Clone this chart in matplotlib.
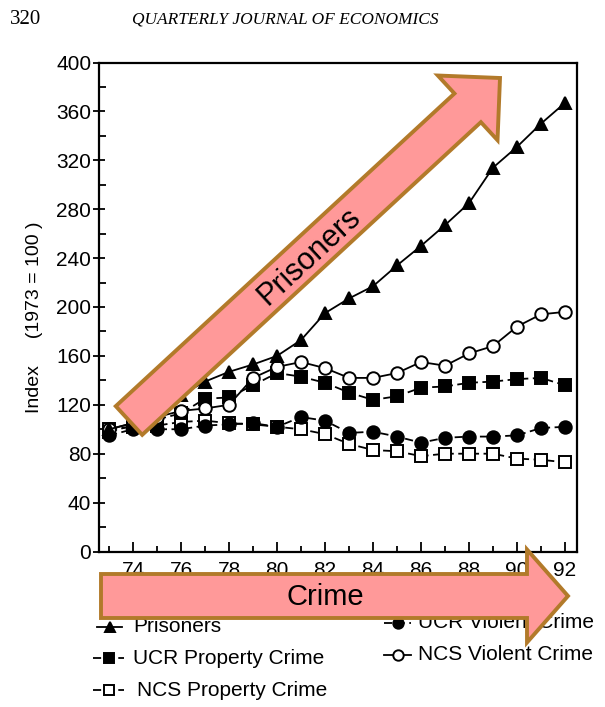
import numpy as np
import matplotlib
matplotlib.use("Agg")
import matplotlib.pyplot as plt
from matplotlib.lines import Line2D
from matplotlib.patches import FancyArrow
from matplotlib.ticker import MultipleLocator

plt.rcParams['font.family'] = ['Liberation Sans', 'DejaVu Sans']

# index values, 1973 = 100
years = [73, 74, 75, 76, 77, 78, 79, 80, 81, 82, 83, 84, 85, 86, 87, 88, 89, 90, 91, 92]
prisoners = [100, 105, 116, 128, 139, 147, 153, 160, 173, 195, 207, 217, 234, 250, 267, 285, 314, 331, 350, 367]
ucr_property = [98, 103, 108, 113, 125, 126, 136, 146, 143, 138, 130, 124, 127, 134, 135, 138, 139, 141, 142, 136]
ucr_violent = [95, 100, 100, 100, 103, 104, 105, 102, 110, 107, 97, 98, 94, 89, 93, 94, 94, 95, 101, 102]
ncs_property = [100, 102, 103, 106, 107, 105, 104, 102, 100, 96, 88, 83, 82, 78, 80, 80, 80, 76, 75, 73]
ncs_violent = [100, 105, 110, 115, 117, 120, 142, 151, 155, 150, 142, 142, 146, 155, 152, 162, 168, 184, 194, 196]
xtick_years = [74, 76, 78, 80, 82, 84, 86, 88, 90, 92]

W, H = 605, 707
fig = plt.figure(figsize=(W / 100, H / 100), dpi=100)
fig.patch.set_facecolor('white')

def fx(px):
    return px / W

def fy(py):
    return 1 - py / H

ax = fig.add_axes([fx(99), fy(551.5), (577 - 99) / W, (551.5 - 62.5) / H])

dash = (0, (4.5, 2.5))
styles = {
    'Prisoners': dict(ls='-', marker='^', mfc='black', ms=9),
    'UCR Property Crime': dict(ls=dash, marker='s', mfc='black', ms=8),
    'NCS Property Crime': dict(ls=dash, marker='s', mfc='white', ms=8),
    'UCR Violent Crime': dict(ls=dash, marker='o', mfc='black', ms=9),
    'NCS Violent Crime': dict(ls='-', marker='o', mfc='white', ms=9),
}
series = {
    'NCS Property Crime': ncs_property,
    'UCR Violent Crime': ucr_violent,
    'UCR Property Crime': ucr_property,
    'NCS Violent Crime': ncs_violent,
    'Prisoners': prisoners,
}
for name, vals in series.items():
    st = styles[name]
    ax.plot(years, vals, color='black', lw=1.3, ls=st['ls'], marker=st['marker'],
            ms=st['ms'], mfc=st['mfc'], mec='black', mew=1.4)

ax.set_xlim(72.58, 92.5)
ax.set_ylim(0, 400)
ax.set_xticks(xtick_years)
ax.set_xticklabels([str(y) for y in xtick_years])
ax.xaxis.set_minor_locator(MultipleLocator(1))
ax.yaxis.set_major_locator(MultipleLocator(40))
ax.yaxis.set_minor_locator(MultipleLocator(20))
ax.tick_params(axis='x', which='major', direction='in', length=7, width=1.3,
               labelsize=15, pad=7)
ax.tick_params(axis='x', which='minor', direction='in', length=4.5, width=1.3)
ax.tick_params(axis='y', which='major', direction='inout', length=9, width=1.3,
               labelsize=15, pad=1)
ax.tick_params(axis='y', which='minor', direction='in', length=5, width=1.3)
for sp in ax.spines.values():
    sp.set_linewidth(1.6)
ax.set_ylabel('Index     (1973 = 100 )', fontsize=14)
ax.yaxis.set_label_coords(-0.118, 0.48)

# page header from the journal scan
fig.text(fx(10), fy(19), '320', fontsize=15, family='Liberation Serif', va='center')
fig.text(fx(285), fy(19), 'QUARTERLY JOURNAL OF ECONOMICS', fontsize=12.5,
         family='Liberation Serif', style='italic', ha='center', va='center')

# hand-made legend below the axes
def legend_entry(x0, x1, y, tx, label):
    st = styles[label]
    fig.add_artist(Line2D([fx(x0), fx(x1)], [fy(y), fy(y)], transform=fig.transFigure,
                          color='black', lw=1.3, ls=st['ls']))
    fig.add_artist(Line2D([fx((x0 + x1) / 2)], [fy(y)], transform=fig.transFigure,
                          marker=st['marker'], ms=st['ms'] - 1.5, mfc=st['mfc'], mec='black',
                          mew=1.4, ls='none'))
    fig.text(fx(tx), fy(y), label, fontsize=15, va='center')

legend_entry(97, 122, 627, 133, 'Prisoners')
legend_entry(93, 124, 658, 133, 'UCR Property Crime')
legend_entry(93, 124, 690, 137, 'NCS Property Crime')
legend_entry(384, 411, 623, 418, 'UCR Violent Crime')
legend_entry(384, 411, 655, 418, 'NCS Violent Crime')

# overlaid annotation arrows (inches from lower-left of the figure)
fill, edge = '#FF9999', '#B27A2A'
t = fig.dpi_scale_trans
tail = (129 / 100, (H - 420.5) / 100)
tip = (500 / 100, (H - 78) / 100)
a1 = FancyArrow(tail[0], tail[1], tip[0] - tail[0], tip[1] - tail[1], width=0.39,
                head_width=0.88, head_length=0.44, length_includes_head=True,
                transform=t, fc=fill, ec=edge, lw=2.8, zorder=5)
fig.add_artist(a1)
a2 = FancyArrow(1.01, (H - 596) / 100, 4.67, 0, width=0.44, head_width=0.93,
                head_length=0.41, length_includes_head=True, transform=t,
                fc=fill, ec=edge, lw=2.8, zorder=5)
fig.add_artist(a2)
ang = np.degrees(np.arctan2(tip[1] - tail[1], tip[0] - tail[0]))
fig.text(fx(309), fy(256), 'Prisoners', fontsize=22, rotation=ang, rotation_mode='anchor',
         ha='center', va='center', zorder=6)
fig.text(fx(325), fy(597), 'Crime', fontsize=21, ha='center', va='center', zorder=6)

fig.savefig('out.png', dpi=100)
